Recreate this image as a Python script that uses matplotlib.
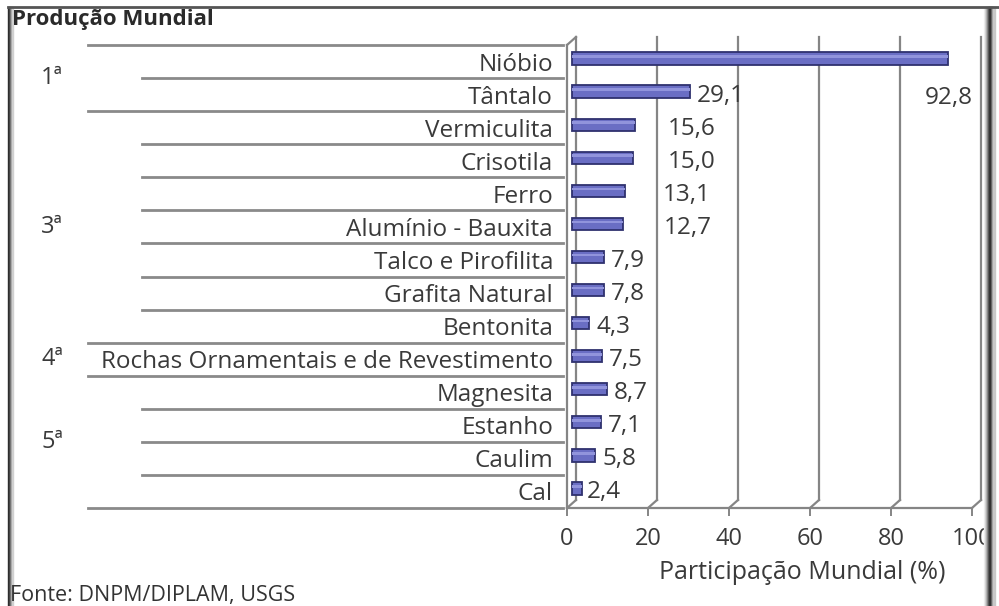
import numpy as np
import matplotlib
matplotlib.use("Agg")
import matplotlib.pyplot as plt
from matplotlib.transforms import ScaledTranslation, blended_transform_factory
from matplotlib.patches import Rectangle

# data
minerais = ['Nióbio', 'Tântalo', 'Vermiculita', 'Crisotila', 'Ferro',
            'Alumínio - Bauxita', 'Talco e Pirofilita', 'Grafita Natural',
            'Bentonita', 'Rochas Ornamentais e de Revestimento', 'Magnesita',
            'Estanho', 'Caulim', 'Cal']
participacao = [92.8, 29.1, 15.6, 15.0, 13.1, 12.7, 7.9, 7.8, 4.3, 7.5, 8.7,
                7.1, 5.8, 2.4]
rotulos = ['92,8', '29,1', '15,6', '15,0', '13,1', '12,7', '7,9', '7,8',
           '4,3', '7,5', '8,7', '7,1', '5,8', '2,4']
posicoes = ['1ª', '3ª', '4ª', '5ª']
tamanho_grupo = [2, 7, 1, 4]
xticks = [0, 20, 40, 60, 80, 100]

W, H = 999, 606
FONT = 'Open Sans'
TXT = '#3a3a3a'
GRID = '#858585'

plt.rcParams['font.family'] = [FONT, 'DejaVu Sans']

fig = plt.figure(figsize=(W / 100, H / 100), dpi=100)
fig.patch.set_facecolor('white')

# plot box in pixels: x 567..972, y 45..508
ax = fig.add_axes([567 / W, 1 - 508 / H, 405 / W, 463 / H])
ax.set_xlim(0, 100)
ax.set_ylim(len(minerais) - 0.5, -0.5)
ax.patch.set_alpha(0)
for s in ax.spines.values():
    s.set_visible(False)

n = len(minerais)
y = np.arange(n)
back = ax.transData + ScaledTranslation(9 / 100, 8 / 100, fig.dpi_scale_trans)
mid = ax.transData + ScaledTranslation(5 / 100, 3 / 100, fig.dpi_scale_trans)
inv = fig.transFigure.inverted()

# back wall gridlines + floor diagonals
for v in xticks:
    ax.plot([v, v], [-0.5, n - 0.5], color=GRID, lw=1.6, transform=back,
            clip_on=False, zorder=1)
    a = inv.transform(back.transform((v, n - 0.5)))
    b = inv.transform(ax.transData.transform((v, n - 0.5)))
    fig.add_artist(plt.Line2D([a[0], b[0]], [a[1], b[1]], color=GRID, lw=1.6))

# left wall and floor front edge
ax.plot([0, 0], [-0.5, n - 0.5], color=GRID, lw=1.6, clip_on=False)
a = inv.transform(ax.transData.transform((0, -0.5)))
b = inv.transform(back.transform((0, -0.5)))
fig.add_artist(plt.Line2D([a[0], b[0]], [a[1], b[1]], color=GRID, lw=1.6))
ax.plot([0, 100], [n - 0.5, n - 0.5], color=GRID, lw=1.6, clip_on=False)

# bars
bars = ax.barh(y, participacao, height=0.37, color='#6a6ec4',
               edgecolor='#2f316e', linewidth=1.3, zorder=3)
for p in bars:
    p.set_transform(mid)
hl = ax.barh(y - 0.06, participacao, height=0.08, color='#9194dc',
             linewidth=0, zorder=4)
for p in hl:
    p.set_transform(mid)

# value labels (offsets in pixels from bar end)
nudge = {0: (-18, -35), 2: (38, 0), 3: (40, 0), 4: (43, 0), 5: (45, 0),
         13: (10, 0)}
for i, (v, t) in enumerate(zip(participacao, rotulos)):
    dx, dy = nudge.get(i, (12, 0))
    ax.annotate(t, (v, i), xytext=(dx, dy - 1), textcoords='offset pixels',
                va='center', ha='left', fontsize=17.5, color=TXT, zorder=5)

# axes ticks and labels
ax.set_xticks(xticks)
ax.set_xticklabels([str(v) for v in xticks])
ax.tick_params(axis='x', length=6, width=1.4, color=GRID, pad=8,
               labelsize=17, labelcolor=TXT)
ax.set_yticks(y)
ax.set_yticklabels(minerais)
ax.tick_params(axis='y', length=0, pad=10, labelsize=17.5, labelcolor=TXT)
ax.set_xlabel('Participação Mundial (%)', fontsize=18, color=TXT)
ax.xaxis.set_label_coords(0.58, -0.112)

# separator lines and group labels on the left
sep = blended_transform_factory(fig.transFigure, ax.transData)
limites = np.concatenate([[0], np.cumsum(tamanho_grupo)])
for k in range(n + 1):
    x0 = 88 if k in limites else 142
    ax.plot([x0 / W, 563 / W], [k - 0.5, k - 0.5], color='#8a8a8a', lw=2,
            transform=sep, clip_on=False)
for g, ini, tam in zip(posicoes, limites[:-1], tamanho_grupo):
    ax.text(52 / W, ini + (tam - 1) / 2, g, transform=sep, ha='center',
            va='center', fontsize=17, color=TXT)

# title and source
fig.text(12 / W, 1 - 19 / H, 'Produção Mundial', fontsize=16,
         fontweight='bold', color='#2a2a2a', va='center', ha='left')
fig.text(10 / W, 1 - 595 / H, 'Fonte: DNPM/DIPLAM, USGS', fontsize=15.5,
         color='#333333', va='center', ha='left')

# frame around the screenshot
fig.add_artist(plt.Line2D([8 / W, 1], [1 - 7 / H, 1 - 7 / H], color='#555555', lw=2))
for i, c in enumerate(['#2a2a2a', '#3c3c3c', '#6a6a6a', '#a0a0a0', '#d0d0d0']):
    fig.patches.append(Rectangle(((8 + i) / W, 0), 1 / W, 1 - 7 / H,
                                 transform=fig.transFigure, color=c))
for i, c in enumerate(['#f0f0f0', '#d8d8d8', '#b8b8b8', '#909090', '#606060',
                       '#3a3a3a', '#2a2a2a', '#5a5a5a', '#9a9a9a', '#c8c8c8']):
    fig.patches.append(Rectangle(((984 + i) / W, 0), 1.5 / W, 1 - 7 / H,
                                 transform=fig.transFigure, color=c))

fig.savefig('out.png', dpi=100)
